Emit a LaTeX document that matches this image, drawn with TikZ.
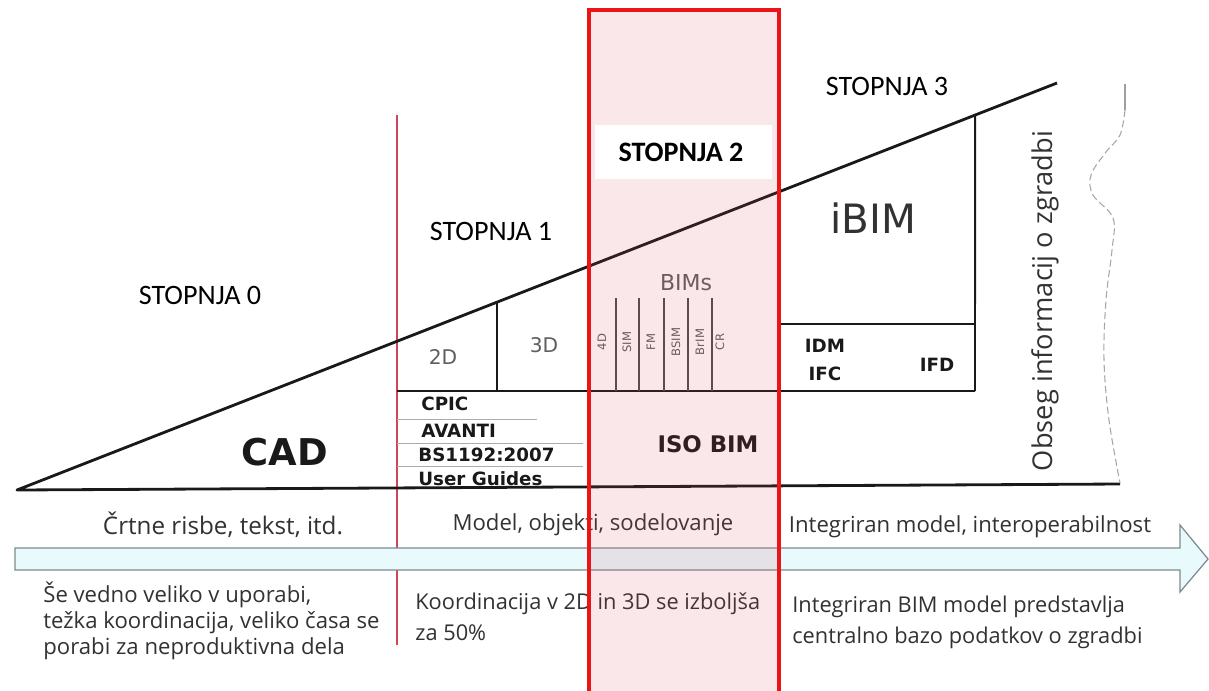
\documentclass[tikz,border=0pt]{standalone}
\usepackage{fontspec}
\setmainfont{Open Sans}
\newfontfamily\calib{Carlito}
\newfontfamily\dejav{DejaVu Sans}
\usetikzlibrary{calc}

\definecolor{ink}{RGB}{25,25,25}
\definecolor{txt}{RGB}{50,50,50}
\definecolor{soft}{RGB}{95,95,95}
\definecolor{stageline}{RGB}{205,70,90}
\definecolor{stagered}{RGB}{235,20,25}
\definecolor{pinkfill}{RGB}{215,70,95}
\definecolor{arrowfill}{RGB}{232,250,252}
\definecolor{arrowedge}{RGB}{125,138,140}

\begin{document}
\begin{tikzpicture}[x=0.02cm,y=-0.02cm,
  frame/.style={draw=ink,line width=1.6pt,line join=round},
  rule/.style={draw=ink,line width=1.1pt},
  hair/.style={draw=gray!65,line width=0.5pt},
  split/.style={draw=gray!60!black,line width=0.6pt},
  stage/.style={font=\calib\fontsize{16}{19}\selectfont,text=black,inner sep=0pt},
  band/.style={font=\fontsize{12.6}{15}\selectfont,text=txt,inner sep=0pt},
  note/.style={font=\fontsize{12.3}{14.7}\selectfont,text=txt,align=left,inner sep=0pt,anchor=west},
  std/.style={font=\dejav\bfseries\fontsize{10.4}{12.5}\selectfont,text=ink,inner sep=0pt},
  dim/.style={font=\dejav\fontsize{11.5}{14}\selectfont,text=soft,inner sep=0pt},
  kind/.style={font=\dejav\fontsize{6.6}{7}\selectfont,text=soft,rotate=90,inner sep=0pt},
]
\useasboundingbox (0,0) rectangle (1209,690);
\fill[white] (0,0) rectangle (1209,690);

% main wedge
\coordinate (apex) at (17,490);
\coordinate (peak) at (1057,83);
\coordinate (baseR) at (1120,484);
\coordinate (h497) at ($(apex)!0.4615!(peak)$);
\coordinate (h778) at ($(apex)!0.7317!(peak)$);
\coordinate (h975) at ($(apex)!0.9212!(peak)$);

% stage 1 boundary
\draw[stageline,line width=1.3pt] (397,115) -- (397,645);

\draw[frame] (peak) -- (apex) -- (baseR);
\draw[rule] (397,391) -- (975,391);
\draw[rule] (h975) -- (975,391);
\draw[rule] (778,324) -- (975,324);
\draw[rule] (h778) -- (778,391);
\draw[rule] (h497) -- (497,391);

% BIMs sub-columns
\foreach \x in {616,639,664,688,712}
  \draw[split] (\x,298) -- (\x,391);

% standards rows
\draw[hair] (397,419) -- (537,419);
\draw[hair] (397,443) -- (583,443);
\draw[hair] (397,466) -- (583,466);

% wavy extent of information
\draw[gray!75,line width=0.7pt] (1125,84) -- (1125,110);
\draw[gray!70,dash pattern=on 4pt off 2pt,line width=0.6pt]
  plot[smooth,tension=0.6] coordinates {(1125,110) (1120,135) (1106,152) (1091,175)
  (1093,195) (1113,218) (1112,250) (1106,300) (1104,360) (1109,420) (1120,483)};

% timeline arrow
\draw[draw=arrowedge,fill=arrowfill,line width=0.7pt,line join=miter]
  (15,548) -- (1180,548) -- (1180,525) -- (1208,559) -- (1180,592)
  -- (1180,570) -- (15,570) -- cycle;

% labels in the wedge
\node[stage] (s0) at (200,295) {STOPNJA 0};
\node[stage] (s1) at (491,231) {STOPNJA 1};
\node[stage] (s3) at (887,86) {STOPNJA 3};

\node[font=\dejav\bfseries\fontsize{21}{25}\selectfont,text=ink,inner sep=0pt] (cad) at (285,452) {CAD};
\node[dim] (d2) at (443,357) {2D};
\node[dim] (d3) at (544,345) {3D};
\node[font=\dejav\fontsize{12.5}{15}\selectfont,text=soft,inner sep=0pt] (bims) at (686,283) {BIMs};
\node[font=\dejav\fontsize{23}{27}\selectfont,text=txt,inner sep=0pt] (ibim) at (873,218) {iBIM};

\node[kind] (k1) at (602,342) {4D};
\node[kind] (k2) at (627,342) {SIM};
\node[kind] (k3) at (651,342) {FM};
\node[kind] (k4) at (676,342) {BSIM};
\node[kind] (k5) at (700,342) {BrIM};
\node[kind] (k6) at (720,342) {CR};

\node[std,anchor=west] (cpic) at (421,404) {CPIC};
\node[std,anchor=west] (avanti) at (421,431) {AVANTI};
\node[std,anchor=west] (bs) at (418,455) {BS1192:2007};
\node[std,anchor=west] (ug) at (418,479) {User Guides};
\node[font=\dejav\bfseries\fontsize{13}{15}\selectfont,text=ink,inner sep=0pt] (iso) at (708,444) {ISO BIM};
\node[std] (idm) at (825,346) {IDM};
\node[std] (ifc) at (825,374) {IFC};
\node[std] (ifd) at (937,365) {IFD};

\node[font=\fontsize{15.5}{18}\selectfont,text=txt,rotate=90,inner sep=0pt] (extent) at (1045,301) {Obseg informacij o zgradbi};

% band labels above the arrow
\node[band,font=\fontsize{13.8}{16}\selectfont] (b0) at (223,525) {Črtne risbe, tekst, itd.};
\node[band] (b1) at (593,525) {Model, objekti, sodelovanje};
\node[band] (b2) at (970,527) {Integriran model, interoperabilnost};

% notes below the arrow
\node[note,font=\fontsize{12.6}{14.8}\selectfont] (n0) at (43,621)
  {Še vedno veliko v uporabi,\\težka koordinacija, veliko časa se\\porabi za neproduktivna dela};
\node[note,font=\fontsize{12.4}{17.6}\selectfont] (n1) at (415,617)
  {Koordinacija v 2D in 3D se izboljša\\za 50\%};
\node[note,font=\fontsize{12.4}{17.6}\selectfont] (n2) at (792,622)
  {Integriran BIM model predstavlja\\centralno bazo podatkov o zgradbi};

% highlighted stage 2
\fill[pinkfill,fill opacity=0.13] (589,10) rectangle (779,692);
\fill[white] (595,125) rectangle (772,179);
\node[stage,font=\calib\bfseries\fontsize{16}{19}\selectfont] (s2) at (681,152) {STOPNJA 2};
\draw[stagered,line width=2.3pt] (589,694) -- (589,10) -- (779,10) -- (779,694);
\end{tikzpicture}
\end{document}
